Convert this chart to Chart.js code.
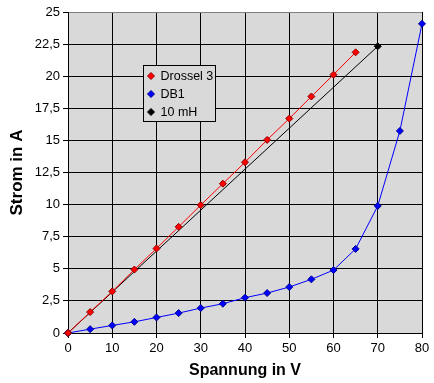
<!DOCTYPE html>
<html><head><meta charset="utf-8">
<script src="https://cdn.jsdelivr.net/npm/chart.js@4/dist/chart.umd.min.js"></script>
<style>html,body{margin:0;padding:0;background:#fff}</style></head>
<body>
<canvas id="c" width="434" height="383"></canvas>
<script>
const seriesNames = ['Drossel 3', 'DB1', '10 mH'];
const seriesColors = ['#ff0000', '#0000ff', '#000000'];
const seriesEdges = ['#900000', '#000090', '#000000'];
const voltageDrossel = [0, 5, 10, 15, 20, 25, 30, 35, 40, 45, 50, 55, 60, 65];
const currentDrossel = [0, 1.63, 3.24, 4.94, 6.58, 8.27, 9.96, 11.63, 13.3, 15.04, 16.7, 18.42, 20.12, 21.86];
const voltageDB1 = [0, 5, 10, 15, 20, 25, 30, 35, 40, 45, 50, 55, 60, 65, 70, 75, 80];
const currentDB1 = [0, 0.3, 0.59, 0.87, 1.21, 1.55, 1.94, 2.28, 2.75, 3.11, 3.58, 4.18, 4.9, 6.55, 9.9, 15.74, 24.08];
const voltage10mH = [0, 70];
const current10mH = [0, 22.33];
const xTitle = 'Spannung in V';
const yTitle = 'Strom in A';
const xMin = 0, xMax = 80, xStep = 10;
const yMin = 0, yMax = 25, yStep = 2.5;

const FONT = 'Liberation Sans, Arial, sans-serif';
const toPts = (xs, ys) => xs.map((x, i) => ({x: x, y: ys[i]}));
const mk = (i, xs, ys) => ({
  label: seriesNames[i],
  data: toPts(xs, ys),
  showLine: true,
  borderColor: seriesColors[i],
  backgroundColor: seriesColors[i],
  borderWidth: 1,
  pointStyle: 'rectRot',
  pointRadius: 3.5,
  pointBorderColor: seriesEdges[i],
  pointBackgroundColor: seriesColors[i],
  pointBorderWidth: 1,
  clip: false
});

const bgPlugin = {
  id: 'bg',
  beforeDraw(chart) {
    const {ctx, chartArea: a} = chart;
    ctx.save();
    ctx.fillStyle = '#d9d9d9';
    ctx.fillRect(a.left, a.top, a.right - a.left, a.bottom - a.top);
    ctx.restore();
  }
};

const legendPlugin = {
  id: 'boxLegend',
  afterDraw(chart) {
    const ctx = chart.ctx;
    const bx = 143.5, by = 65.5, bw = 72, bh = 56;
    ctx.save();
    ctx.fillStyle = '#d9d9d9';
    ctx.fillRect(bx, by, bw, bh);
    ctx.strokeStyle = '#000';
    ctx.lineWidth = 1;
    ctx.strokeRect(bx, by, bw, bh);
    ctx.font = '12.5px ' + FONT;
    ctx.textBaseline = 'middle';
    chart.data.datasets.forEach((ds, i) => {
      const y = by + 10.5 + i * 18;
      const x = bx + 7.5;
      ctx.fillStyle = ds.backgroundColor;
      ctx.strokeStyle = ds.pointBorderColor;
      ctx.beginPath();
      ctx.moveTo(x, y - 3.5); ctx.lineTo(x + 3.5, y); ctx.lineTo(x, y + 3.5); ctx.lineTo(x - 3.5, y);
      ctx.closePath(); ctx.fill(); ctx.stroke();
      ctx.fillStyle = '#000';
      ctx.fillText(ds.label, bx + 17, y + 0.5);
    });
    ctx.restore();
  }
};

const fmt = v => String(v).replace('.', ',');

new Chart(document.getElementById('c'), {
  type: 'scatter',
  data: {
    datasets: [
      mk(0, voltageDrossel, currentDrossel),
      mk(1, voltageDB1, currentDB1),
      mk(2, voltage10mH, current10mH)
    ]
  },
  options: {
    responsive: false,
    animation: false,
    devicePixelRatio: 1,
    layout: {padding: {top: 12, right: 12, left: 0, bottom: 0}},
    plugins: {legend: {display: false}, tooltip: {enabled: false}},
    scales: {
      x: {
        type: 'linear', min: xMin, max: xMax,
        afterFit(s) { s.height = 50; },
        ticks: {stepSize: xStep, color: '#000', font: {family: FONT, size: 13}, padding: 3, callback: fmt, maxRotation: 0},
        grid: {color: '#000', lineWidth: 1, tickLength: 5, tickColor: '#000'},
        border: {color: '#000', width: 1},
        title: {display: true, text: xTitle, color: '#000', font: {family: FONT, size: 16, weight: 'bold'}, padding: {top: 0, bottom: 3}}
      },
      y: {
        type: 'linear', min: yMin, max: yMax,
        afterFit(s) { s.width = 68; },
        ticks: {stepSize: yStep, color: '#000', font: {family: FONT, size: 13}, padding: 3, callback: fmt},
        grid: {color: c => (c.tick && c.tick.value === yMax) ? '#808080' : '#000', lineWidth: 1, tickLength: 5, tickColor: '#000'},
        border: {color: '#000', width: 1},
        title: {display: true, text: yTitle, color: '#000', font: {family: FONT, size: 17, weight: 'bold'}, padding: {top: 7, bottom: 0}}
      }
    }
  },
  plugins: [bgPlugin, legendPlugin]
});
</script>
</body></html>
